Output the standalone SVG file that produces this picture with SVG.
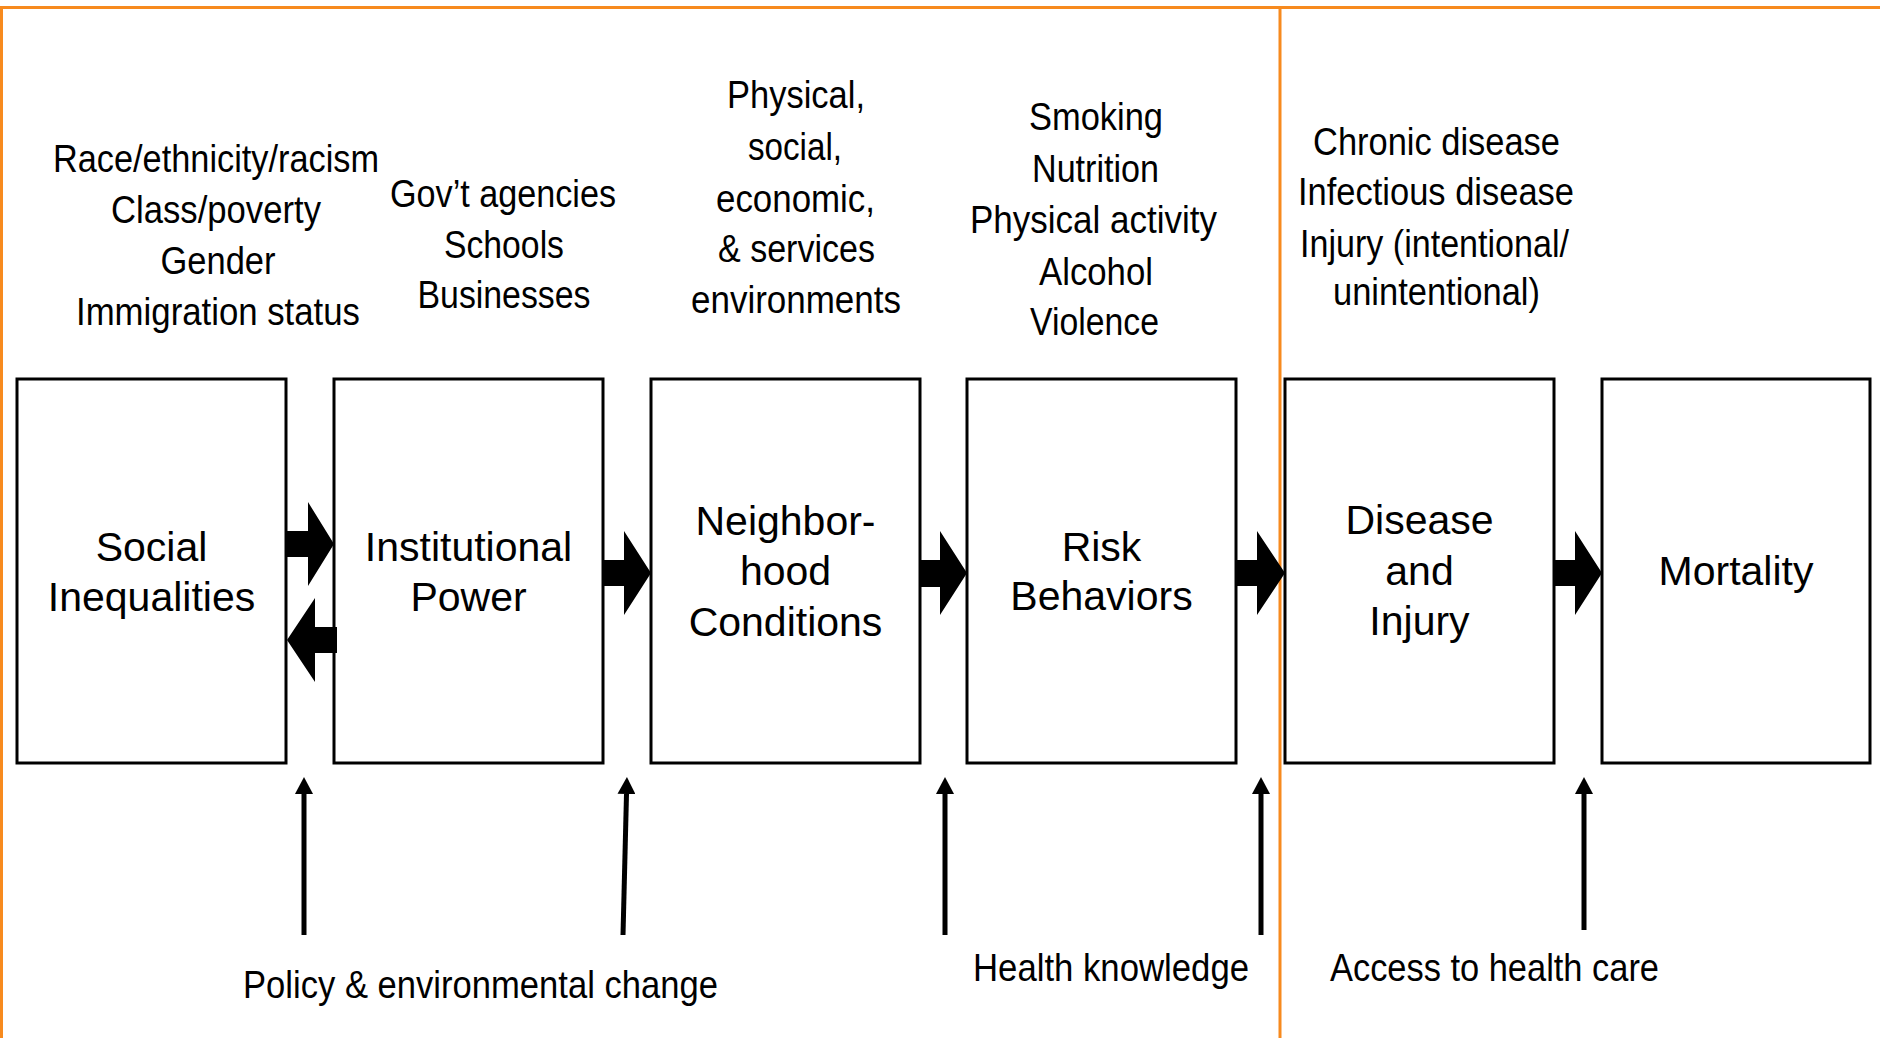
<svg xmlns="http://www.w3.org/2000/svg" width="1880" height="1038" viewBox="0 0 1880 1038">
<style>
.frame{stroke:#F78A1E;stroke-width:3;fill:none}
.box{fill:#fff;stroke:#000;stroke-width:3}
.lbl{font-family:"Liberation Sans",Arial,sans-serif;font-size:41px;fill:#000;text-anchor:middle}
.sm{font-family:"Liberation Sans",Arial,sans-serif;font-size:38px;fill:#000;text-anchor:middle}
.bt{font-family:"Liberation Sans",Arial,sans-serif;font-size:39px;fill:#000;text-anchor:middle}
.blk{fill:#000;stroke:none}
.up{stroke:#000;stroke-width:5;fill:none;marker-end:url(#ah)}
</style>
<defs>
<marker id="ah" viewBox="0 0 17 18" markerWidth="17" markerHeight="18" refX="0" refY="9" orient="auto" markerUnits="userSpaceOnUse">
<path d="M0,0 L17,9 L0,18 z" fill="#000"/>
</marker>
</defs>
<rect width="1880" height="1038" fill="#fff"/>
<g id="frame">
<line class="frame" x1="0" y1="7.5" x2="1880" y2="7.5"/>
<line class="frame" x1="1.5" y1="6" x2="1.5" y2="1038"/>
<line class="frame" x1="1280" y1="6" x2="1280" y2="1038"/>
</g>
<g id="desc-inequalities">
<text class="sm" x="216" y="172" textLength="326" lengthAdjust="spacingAndGlyphs">Race/ethnicity/racism</text>
<text class="sm" x="216" y="223" textLength="210" lengthAdjust="spacingAndGlyphs">Class/poverty</text>
<text class="sm" x="218" y="274" textLength="115" lengthAdjust="spacingAndGlyphs">Gender</text>
<text class="sm" x="218" y="325" textLength="284" lengthAdjust="spacingAndGlyphs">Immigration status</text>
</g>
<g id="desc-institutional">
<text class="sm" x="503" y="207" textLength="226" lengthAdjust="spacingAndGlyphs">Gov’t agencies</text>
<text class="sm" x="504" y="258" textLength="120" lengthAdjust="spacingAndGlyphs">Schools</text>
<text class="sm" x="504" y="308" textLength="173" lengthAdjust="spacingAndGlyphs">Businesses</text>
</g>
<g id="desc-neighborhood">
<text class="sm" x="796" y="108" textLength="138" lengthAdjust="spacingAndGlyphs">Physical,</text>
<text class="sm" x="795" y="160" textLength="94" lengthAdjust="spacingAndGlyphs">social,</text>
<text class="sm" x="795.5" y="212" textLength="159" lengthAdjust="spacingAndGlyphs">economic,</text>
<text class="sm" x="796.5" y="262" textLength="157" lengthAdjust="spacingAndGlyphs">&amp; services</text>
<text class="sm" x="796" y="313" textLength="210" lengthAdjust="spacingAndGlyphs">environments</text>
</g>
<g id="desc-risk">
<text class="sm" x="1096" y="130" textLength="134" lengthAdjust="spacingAndGlyphs">Smoking</text>
<text class="sm" x="1095.5" y="182" textLength="127" lengthAdjust="spacingAndGlyphs">Nutrition</text>
<text class="sm" x="1093.5" y="233" textLength="247" lengthAdjust="spacingAndGlyphs">Physical activity</text>
<text class="sm" x="1096" y="285" textLength="114" lengthAdjust="spacingAndGlyphs">Alcohol</text>
<text class="sm" x="1094.5" y="335" textLength="129" lengthAdjust="spacingAndGlyphs">Violence</text>
</g>
<g id="desc-disease">
<text class="sm" x="1436.5" y="155" textLength="247" lengthAdjust="spacingAndGlyphs">Chronic disease</text>
<text class="sm" x="1436" y="205" textLength="276" lengthAdjust="spacingAndGlyphs">Infectious disease</text>
<text class="sm" x="1434.5" y="257" textLength="269" lengthAdjust="spacingAndGlyphs">Injury (intentional/</text>
<text class="sm" x="1436.5" y="305" textLength="207" lengthAdjust="spacingAndGlyphs">unintentional)</text>
</g>
<g id="node-social">
<rect class="box" x="17" y="379" width="269" height="384"/>
<text class="lbl" x="151.5" y="561">Social</text>
<text class="lbl" x="151.5" y="611">Inequalities</text>
</g>
<g id="node-institutional">
<rect class="box" x="334" y="379" width="269" height="384"/>
<text class="lbl" x="468.5" y="561">Institutional</text>
<text class="lbl" x="468.5" y="611">Power</text>
</g>
<g id="node-neighborhood">
<rect class="box" x="651" y="379" width="269" height="384"/>
<text class="lbl" x="785.5" y="535">Neighbor-</text>
<text class="lbl" x="785.5" y="585">hood</text>
<text class="lbl" x="785.5" y="636">Conditions</text>
</g>
<g id="node-risk">
<rect class="box" x="967" y="379" width="269" height="384"/>
<text class="lbl" x="1101.5" y="561">Risk</text>
<text class="lbl" x="1101.5" y="610">Behaviors</text>
</g>
<g id="node-disease">
<rect class="box" x="1285" y="379" width="269" height="384"/>
<text class="lbl" x="1419.5" y="534">Disease</text>
<text class="lbl" x="1419.5" y="585">and</text>
<text class="lbl" x="1419.5" y="635">Injury</text>
</g>
<g id="node-mortality">
<rect class="box" x="1602" y="379" width="268" height="384"/>
<text class="lbl" x="1736" y="585">Mortality</text>
</g>
<g id="connectors">
<polygon class="blk" points="286,531 308,531 308,502 334,544 308,586 308,557 286,557"/>
<polygon class="blk" points="337,627 315,627 315,598 287,640 315,682 315,653 337,653"/>
<polygon class="blk" points="603,560 624,560 624,531 651,573 624,615 624,586 603,586"/>
<polygon class="blk" points="920,560 940,560 940,531 967,573 940,615 940,587 920,587"/>
<polygon class="blk" points="1236,560 1257,560 1257,531 1285,573 1257,615 1257,586 1236,586"/>
<polygon class="blk" points="1554,560 1575,560 1575,531 1602,573 1575,615 1575,586 1554,586"/>
<line class="up" x1="304" y1="935" x2="304" y2="794"/>
<line class="up" x1="623" y1="935" x2="626.5" y2="794"/>
<line class="up" x1="945" y1="935" x2="945" y2="794"/>
<line class="up" x1="1261" y1="935" x2="1261" y2="794"/>
<line class="up" x1="1584" y1="930" x2="1584" y2="794"/>
</g>
<g id="bottom-labels">
<text class="bt" x="480.5" y="998" textLength="475" lengthAdjust="spacingAndGlyphs">Policy &amp; environmental change</text>
<text class="bt" x="1111" y="981" textLength="276" lengthAdjust="spacingAndGlyphs">Health knowledge</text>
<text class="bt" x="1494.5" y="981" textLength="329" lengthAdjust="spacingAndGlyphs">Access to health care</text>
</g>
</svg>
